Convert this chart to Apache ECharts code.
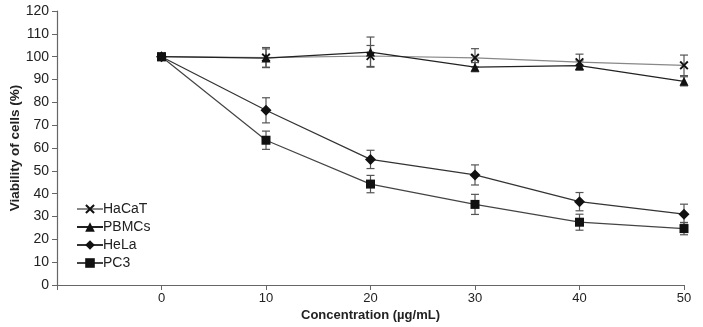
<!DOCTYPE html>
<html><head><meta charset="utf-8">
<script src="https://cdn.jsdelivr.net/npm/echarts@6/dist/echarts.min.js"></script>
<style>html,body{margin:0;padding:0;background:#fff}#c{width:703px;height:327px}</style>
</head><body><div id="c"></div>
<script>
const concentrations = [0, 10, 20, 30, 40, 50];
const seriesNames = ['HaCaT', 'PBMCs', 'HeLa', 'PC3'];
const hacat = [100, 99.6, 100.3, 99.5, 97.6, 96.2];
const hacatErr = [0, 4.4, 4.6, 4, 3.5, 4.5];
const pbmcs = [100, 99.4, 102, 95.4, 96.1, 89.2];
const pbmcsErr = [0, 4, 6.6, 2, 2, 2];
const hela = [100, 76.5, 55, 48.2, 36.5, 31];
const helaErr = [0, 5.5, 4, 4.4, 4, 4.4];
const pc3 = [100, 63.4, 44.2, 35.3, 27.5, 24.7];
const pc3Err = [0, 4, 3.8, 4.4, 3.5, 2.7];
const yTicks = [0, 10, 20, 30, 40, 50, 60, 70, 80, 90, 100, 110, 120];

const FONT = 'Liberation Sans, Arial, sans-serif';
const crossPath = 'path://M0,1.5L1.5,0L5,3.5L8.5,0L10,1.5L6.5,5L10,8.5L8.5,10L5,6.5L1.5,10L0,8.5L3.5,5Z';

function pairs(vals){ return concentrations.map((c,i)=>[c, vals[i]]); }
function errData(vals, errs){ return concentrations.map((c,i)=>[c, vals[i], errs[i]]); }

function errSeries(vals, errs){
  return {
    type: 'custom',
    data: errData(vals, errs),
    z: 1,
    silent: true,
    renderItem: function(params, api){
      const x = api.value(0), y = api.value(1), e = api.value(2);
      if (!e) return null;
      const top = api.coord([x, y + e]);
      const bot = api.coord([x, y - e]);
      const hw = 4;
      const st = {stroke: '#555', lineWidth: 1.2};
      return {type: 'group', children: [
        {type: 'line', shape: {x1: top[0], y1: top[1], x2: bot[0], y2: bot[1]}, style: st},
        {type: 'line', shape: {x1: top[0]-hw, y1: top[1], x2: top[0]+hw, y2: top[1]}, style: st},
        {type: 'line', shape: {x1: bot[0]-hw, y1: bot[1], x2: bot[0]+hw, y2: bot[1]}, style: st}
      ]};
    }
  };
}

function lineSeries(name, vals, symbol, size, lineColor){
  return {
    name: name, type: 'line', data: pairs(vals), symbol: symbol, symbolSize: size,
    showAllSymbol: true, z: 3,
    lineStyle: {color: lineColor, width: 1.2},
    itemStyle: {color: '#111', borderWidth: 0},
    emphasis: {disabled: true}, animation: false
  };
}

const chart = echarts.init(document.getElementById('c'), null, {renderer: 'canvas'});
chart.setOption({
  animation: false,
  backgroundColor: '#fff',
  textStyle: {fontFamily: FONT},
  grid: {left: 57, right: 19, top: 11, bottom: 42, containLabel: false, outerBoundsMode: 'none'},
  legend: {
    orient: 'vertical', left: 71, top: 197,
    itemWidth: 26, itemHeight: 12, itemGap: 4,
    textStyle: {fontSize: 14, color: '#222', fontFamily: FONT, padding: [0,0,0,-5]},
    data: seriesNames
  },
  xAxis: {
    type: 'value', min: -10, max: 50, interval: 10,
    name: 'Concentration (µg/mL)', nameLocation: 'middle', nameGap: 24, nameMoveOverlap: false,
    nameTextStyle: {fontSize: 13, fontWeight: 'bold', color: '#222', fontFamily: FONT},
    axisLine: {onZero: false, lineStyle: {color: '#666', width: 1.2}},
    axisTick: {show: true, length: 5, lineStyle: {color: '#666'}},
    axisLabel: {fontSize: 13, color: '#222', margin: 7, fontFamily: FONT,
      formatter: v => v < 0 ? '' : String(v)},
    splitLine: {show: false}
  },
  yAxis: {
    type: 'value', min: yTicks[0], max: yTicks[yTicks.length-1], interval: 10,
    name: 'Viability of cells (%)', nameLocation: 'middle', nameGap: 35, nameMoveOverlap: false,
    nameTextStyle: {fontSize: 13.5, fontWeight: 'bold', color: '#222', fontFamily: FONT},
    axisLine: {show: true, onZero: false, lineStyle: {color: '#666', width: 1.2}},
    axisTick: {show: true, length: 5, lineStyle: {color: '#666'}},
    axisLabel: {fontSize: 14, color: '#222', margin: 8, fontFamily: FONT},
    splitLine: {show: false}
  },
  series: [
    errSeries(hacat, hacatErr), errSeries(pbmcs, pbmcsErr), errSeries(hela, helaErr), errSeries(pc3, pc3Err),
    lineSeries('HaCaT', hacat, crossPath, 9, '#888'),
    lineSeries('PBMCs', pbmcs, 'triangle', 9, '#222'),
    lineSeries('HeLa', hela, 'diamond', 11, '#333'),
    lineSeries('PC3', pc3, 'rect', 9, '#444')
  ]
});
</script>
</body></html>
